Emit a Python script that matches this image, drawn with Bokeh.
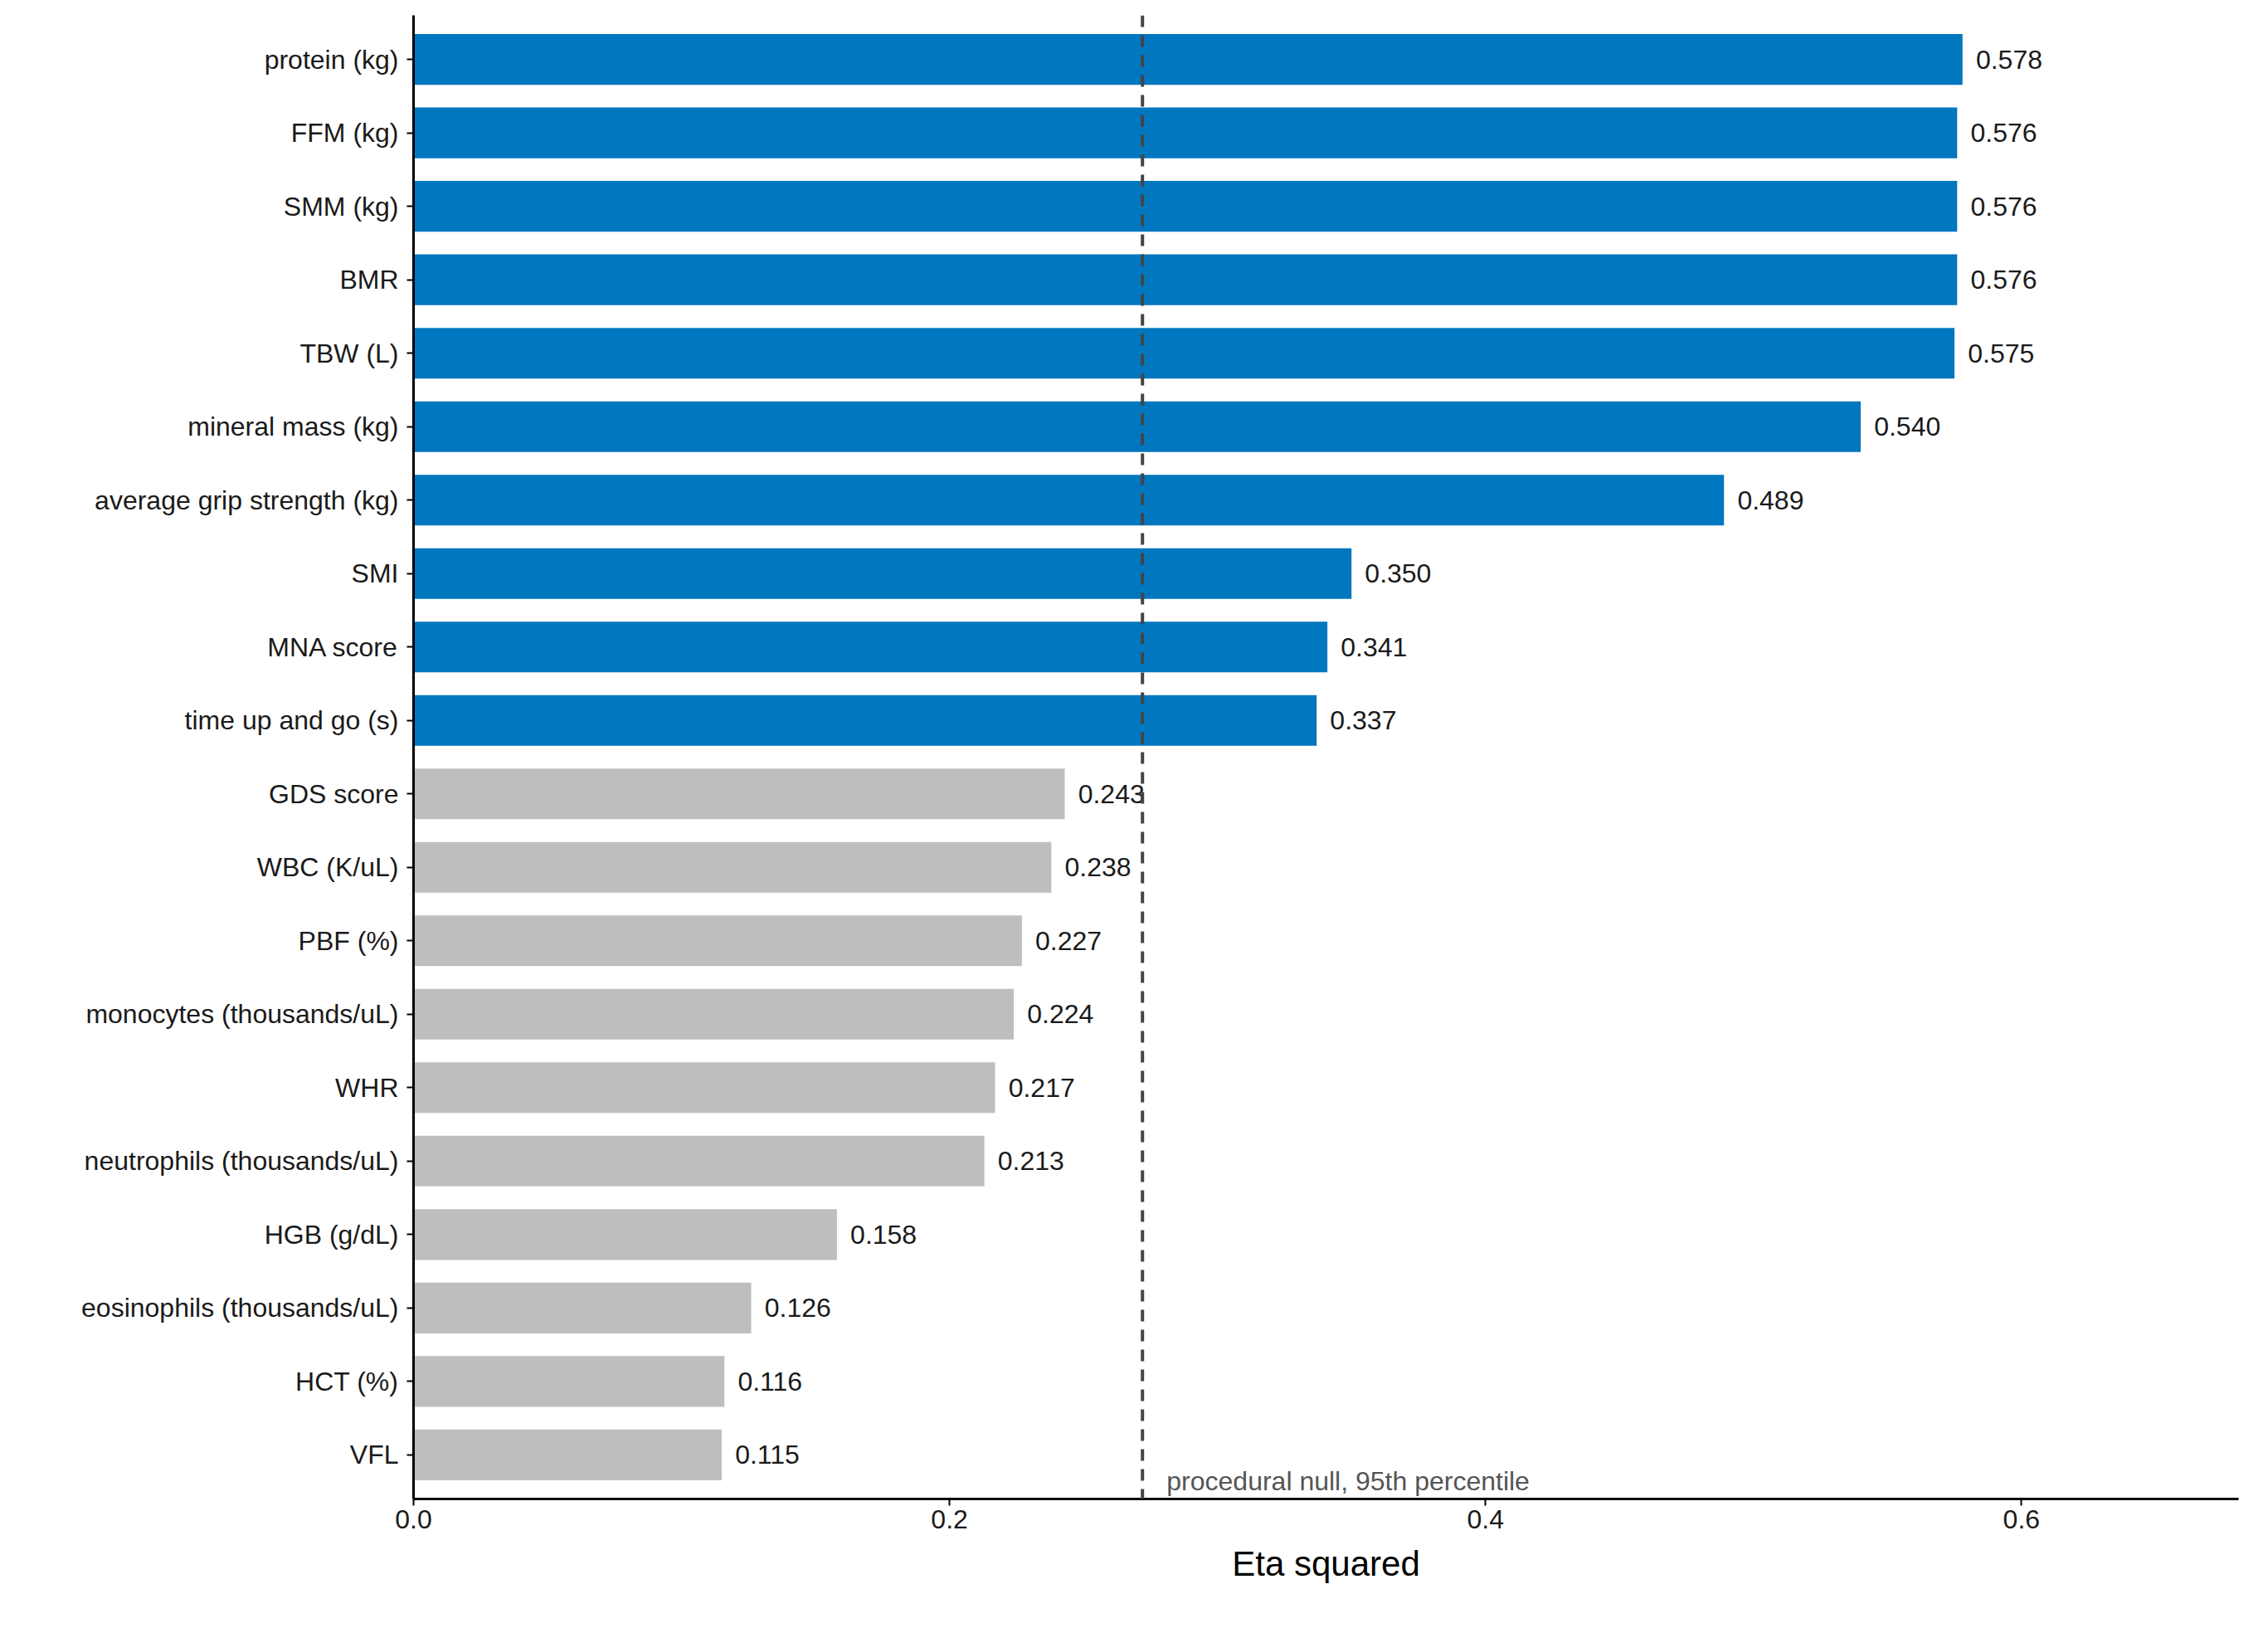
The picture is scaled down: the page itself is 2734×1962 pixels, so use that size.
from bokeh.plotting import figure
from bokeh.models import FactorRange, ColumnDataSource, Span, Label
from bokeh.core.properties import value
from bokeh.embed import file_html
from bokeh.resources import INLINE

labels = ["protein (kg)", "FFM (kg)", "SMM (kg)", "BMR", "TBW (L)", "mineral mass (kg)",
          "average grip strength (kg)", "SMI", "MNA score", "time up and go (s)", "GDS score",
          "WBC (K/uL)", "PBF (%)", "monocytes (thousands/uL)", "WHR", "neutrophils (thousands/uL)",
          "HGB (g/dL)", "eosinophils (thousands/uL)", "HCT (%)", "VFL"]
values = [0.578, 0.576, 0.576, 0.576, 0.575, 0.540, 0.489, 0.350, 0.341, 0.337, 0.243,
          0.238, 0.227, 0.224, 0.217, 0.213, 0.158, 0.126, 0.116, 0.115]
null95 = 0.272
colors = ["#0077BF" if v > null95 else "#BEBEBE" for v in values]
texts = ["%.3f" % v for v in values]
xticks = [0.0, 0.2, 0.4, 0.6]

src = ColumnDataSource(dict(y=labels, v=values, c=colors, t=texts, tx=[v + 0.005 for v in values]))
yr = FactorRange(factors=labels[::-1], range_padding=0.1, range_padding_units="absolute")
p = figure(width=2718, height=1946, y_range=yr, x_range=(0, 0.681),
           output_backend="svg", toolbar_location=None,
           min_border_left=498, min_border_right=20, min_border_top=18, min_border_bottom=140)
p.hbar(y="y", right="v", left=0, height=0.69, fill_color="c", line_color=None, source=src)
p.text(x="tx", y="y", text="t", source=src, text_baseline="middle", text_align="left",
       text_font_size="32px", text_color="#1a1a1a", text_font=value("Liberation Sans"))
p.add_layout(Span(location=null95, dimension="height", line_color="#444444",
                  line_width=4, line_dash="14 10"))
p.add_layout(Label(x=null95 + 0.009, y=4, y_units="screen", text="procedural null, 95th percentile",
                   text_font_size="32px", text_color="#555555", text_font="Liberation Sans"))
p.xgrid.visible = False
p.ygrid.visible = False
p.outline_line_color = None
for ax in (p.xaxis, p.yaxis):
    ax.axis_line_color = "black"
    ax.axis_line_width = 3
    ax.major_tick_line_color = "black"
    ax.major_tick_line_width = 2
    ax.major_tick_out = 8
    ax.major_tick_in = 0
    ax.minor_tick_line_color = None
    ax.major_label_text_font = "Liberation Sans"
    ax.major_label_text_font_size = "32px"
    ax.major_label_text_color = "#1a1a1a"
p.xaxis.ticker = xticks
p.xaxis.major_label_overrides = {0.0: "0.0", 0.2: "0.2", 0.4: "0.4", 0.6: "0.6"}
p.xaxis.axis_label = "Eta squared"
p.xaxis.axis_label_text_font = "Liberation Sans"
p.xaxis.axis_label_text_font_size = "42px"
p.xaxis.axis_label_text_color = "black"
p.xaxis.axis_label_standoff = 16
p.xaxis.axis_label_text_font_style = "normal"
p.yaxis.major_label_standoff = 10

open("out.html", "w").write(file_html(p, INLINE))
